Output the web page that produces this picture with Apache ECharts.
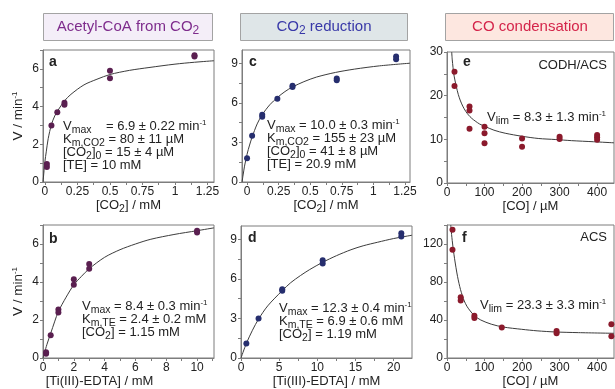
<!DOCTYPE html>
<html>
<head>
<meta charset="utf-8">
<script src="https://cdn.jsdelivr.net/npm/echarts@6/dist/echarts.min.js"></script>
<style>
html, body { margin: 0; padding: 0; background: #fff; }
#main { width: 615px; height: 389px; }
</style>
</head>
<body>
<div id="main"></div>
<script>
// a: acetyl-CoA from CO2, V vs [CO2]
var aX = [0.015, 0.015, 0.05, 0.095, 0.15, 0.15, 0.5, 0.5, 1.15, 1.15];
var aY = [0.8, 0.95, 3.0, 3.7, 4.2, 4.1, 5.9, 5.5, 6.65, 6.72];
var aFitX = [-0.015, 0, 0.01, 0.025, 0.05, 0.075, 0.1, 0.15, 0.2, 0.3, 0.4, 0.5, 0.65, 0.8, 1.0, 1.15, 1.3];
var aFitY = [0, 1.1, 1.6, 2.3, 3.05, 3.5, 3.8, 4.3, 4.65, 5.15, 5.45, 5.7, 5.92, 6.07, 6.25, 6.35, 6.43];
// b: acetyl-CoA, V vs [Ti(III)-EDTA]
var bX = [0.2, 0.2, 0.5, 1, 1, 2, 2, 3, 3, 10, 10];
var bY = [0.22, 0.3, 1.2, 2.55, 2.4, 4.15, 3.85, 4.95, 4.7, 6.7, 6.6];
var bFitX = [0, 0.25, 0.5, 0.75, 1, 1.5, 2, 2.5, 3, 4, 5, 6, 7, 8.5, 10, 11.1];
var bFitY = [0, 0.7, 1.3, 1.9, 2.45, 3.2, 3.85, 4.3, 4.7, 5.3, 5.7, 6.0, 6.25, 6.5, 6.7, 6.85];
// c: CO2 reduction, V vs [CO2]
var cX = [0, 0.04, 0.12, 0.12, 0.24, 0.36, 0.36, 0.71, 0.71, 1.18, 1.18];
var cY = [1.8, 3.5, 5.1, 4.95, 6.3, 7.3, 7.2, 7.85, 7.7, 9.5, 9.3];
var cFitX = [-0.04, -0.03, -0.02, 0, 0.02, 0.04, 0.08, 0.12, 0.18, 0.24, 0.3, 0.36, 0.45, 0.55, 0.7, 0.85, 1.05, 1.29];
var cFitY = [0, 0.6, 1.2, 2.1, 2.8, 3.4, 4.4, 5.1, 5.85, 6.4, 6.85, 7.2, 7.6, 7.95, 8.3, 8.55, 8.8, 9.0];
// d: CO2 reduction, V vs [Ti(III)-EDTA]
var dX = [0.7, 2.3, 5.4, 5.4, 10.7, 10.7, 21, 21];
var dY = [1.1, 3.0, 5.1, 5.2, 7.4, 7.15, 9.45, 9.2];
var dFitX = [0, 0.7, 1.5, 2.3, 3.5, 5.4, 6.5, 7.8, 9, 10.7, 12.5, 14.4, 16, 17.9, 20, 22.4];
var dFitY = [0, 1.1, 2.1, 2.95, 3.95, 5.1, 5.7, 6.25, 6.7, 7.25, 7.75, 8.2, 8.5, 8.77, 9.05, 9.3];
// e: CO condensation (CODH/ACS), V vs [CO]
var eX = [20, 20, 60, 60, 60, 100, 100, 100, 200, 200, 300, 300, 400, 400, 400];
var eY = [25.5, 22.2, 17.5, 16.6, 12.4, 12.9, 11.4, 9.1, 10.2, 8.3, 10.6, 10.1, 11.0, 10.5, 9.9];
var eFitX = [12.5, 14, 16, 18, 21, 25, 30, 35, 42, 50, 57, 66, 75, 87, 100, 125, 155, 200, 243, 290, 332, 390, 445];
var eFitY = [30, 28.2, 26.5, 25, 23.6, 22, 20.3, 19, 17.6, 16.4, 15.6, 14.8, 14.2, 13.5, 13, 12.1, 11.4, 10.7, 10.2, 9.95, 9.7, 9.45, 9.2];
// f: CO condensation (ACS), V vs [CO]
var fX = [14.6, 14.6, 36.5, 36.5, 73, 73, 146, 292, 292, 438, 438];
var fY = [135, 114, 64, 60.5, 44.4, 42, 32, 28.4, 26, 35.6, 23];
var fFitX = [10, 11.5, 13, 15, 17, 20, 24, 28, 32, 36, 41, 46, 53, 60, 73, 90, 118, 150, 199, 240, 289, 350, 445];
var fFitY = [140, 133, 127, 120, 113.5, 105, 95, 86, 78.5, 72, 65.5, 60, 54.5, 50.5, 44.5, 40, 35.6, 32.6, 30.2, 28.6, 27.4, 26.7, 26];

// tick labels
var aXLabels = [0, 0.25, 0.5, 0.75, 1, 1.25];
var cXLabels = [0, 0.25, 0.5, 0.75, 1, 1.25];
var bXLabels = [0, 2, 4, 6, 8, 10];
var dXLabels = [0, 5, 10, 15, 20];
var efXLabels = [0, 100, 200, 300, 400];
var abYLabels = [0, 2, 4, 6];
var cdYLabels = [0, 3, 6, 9];
var eYLabels = [0, 10, 20, 30];
var fYLabels = [0, 40, 80, 120];

var FONT = 'Liberation Sans, Arial, sans-serif';
var INK = '#222';
var AXIS = '#7d7d7d';

function pairs(xs, ys) {
    return xs.map(function (x, i) { return [x, ys[i]]; });
}
// add a minor tick halfway between labels
function withMinor(labels, max) {
    var out = [];
    var step = labels[1] - labels[0];
    labels.forEach(function (v) {
        out.push(v);
        if (v + step / 2 <= max) out.push(v + step / 2);
    });
    return out;
}

// s = subscript, p = superscript (height drives the shift inside the line)
var rich = {
    s: { fontFamily: FONT, fontSize: 10.5, color: INK, height: 5, lineHeight: 5, verticalAlign: 'bottom' },
    p: { fontFamily: FONT, fontSize: 8, color: INK, height: 6, lineHeight: 6, verticalAlign: 'top' }
};

var panels = [
    { grid: [43, 50, 171, 132], x: [-0.015, 1.3], y: [0, 7], xl: aXLabels, yl: abYLabels, pts: pairs(aX, aY), fit: pairs(aFitX, aFitY), color: '#5a1f50', xname: '[CO{s|2}] / mM', yname: 'V / min{p|-1}', pad: 0 },
    { grid: [242, 50, 168, 132], x: [-0.04, 1.29], y: [0, 10], xl: cXLabels, yl: cdYLabels, pts: pairs(cX, cY), fit: pairs(cFitX, cFitY), color: '#262e6e', xname: '[CO{s|2}] / mM', pad: 0 },
    { grid: [447, 52, 167, 131], x: [0, 445], y: [0, 30], xl: efXLabels, yl: eYLabels, pts: pairs(eX, eY), fit: pairs(eFitX, eFitY), color: '#8b1a2c', xname: '[CO] / µM', pad: 0 },
    { grid: [43, 225, 171, 133], x: [0, 11.1], y: [0, 7], xl: bXLabels, yl: abYLabels, pts: pairs(bX, bY), fit: pairs(bFitX, bFitY), color: '#5a1f50', xname: '[Ti(III)-EDTA] / mM', yname: 'V / min{p|-1}', pad: 58 },
    { grid: [241, 226, 171, 132], x: [0, 22.4], y: [0, 10], xl: dXLabels, yl: cdYLabels, pts: pairs(dX, dY), fit: pairs(dFitX, dFitY), color: '#262e6e', xname: '[Ti(III)-EDTA] / mM', pad: 0 },
    { grid: [447, 225, 167, 133], x: [0, 445], y: [0, 140], xl: efXLabels, yl: fYLabels, pts: pairs(fX, fY), fit: pairs(fFitX, fFitY), color: '#8b1a2c', xname: '[CO] / µM', pad: 0 }
];

var grids = [], xAxes = [], yAxes = [], series = [];
panels.forEach(function (p, i) {
    grids.push({
        left: p.grid[0], top: p.grid[1], width: p.grid[2], height: p.grid[3],
        show: true, borderColor: AXIS, borderWidth: 1, outerBoundsMode: 'none'
    });
    var nameStyle = { fontFamily: FONT, fontSize: 13, color: INK, lineHeight: 13, rich: rich };
    xAxes.push({
        gridIndex: i, type: 'value', min: p.x[0], max: p.x[1],
        axisLine: { show: true, onZero: false, lineStyle: { color: AXIS } },
        axisTick: { show: true, length: 3, customValues: withMinor(p.xl, p.x[1]), lineStyle: { color: AXIS } },
        axisLabel: { customValues: p.xl, fontFamily: FONT, fontSize: 12, color: INK, margin: 4 },
        splitLine: { show: false },
        name: p.xname, nameLocation: 'middle', nameGap: 17,
        nameTextStyle: Object.assign({}, nameStyle, { padding: [0, p.pad, 0, 0] })
    });
    yAxes.push({
        gridIndex: i, type: 'value', min: p.y[0], max: p.y[1],
        axisLine: { show: true, onZero: false, lineStyle: { color: AXIS } },
        axisTick: { show: true, length: 3, customValues: withMinor(p.yl, p.y[1]), lineStyle: { color: AXIS } },
        axisLabel: { customValues: p.yl, fontFamily: FONT, fontSize: 12, color: INK, margin: 4 },
        splitLine: { show: false },
        name: p.yname || '', nameLocation: 'middle', nameGap: 18, nameRotate: 90,
        nameTextStyle: Object.assign({}, nameStyle, { fontSize: 13.5 })
    });
    series.push({
        type: 'line', xAxisIndex: i, yAxisIndex: i, data: p.fit,
        symbol: 'none', smooth: 0.3, z: 2,
        lineStyle: { color: '#3c3c3c', width: 1 }
    });
    series.push({
        type: 'scatter', xAxisIndex: i, yAxisIndex: i, data: p.pts,
        symbolSize: 6, z: 3, itemStyle: { color: p.color, opacity: 1 }
    });
});

function note(left, top, text, extra) {
    var t = {
        left: left, top: top, padding: 0, text: text,
        textStyle: { fontFamily: FONT, fontSize: 13, fontWeight: 'normal', color: INK, lineHeight: 13, rich: rich }
    };
    return Object.assign(t, extra || {});
}
function letter(left, top, ch) {
    return { left: left, top: top, padding: 0, text: ch,
        textStyle: { fontFamily: FONT, fontSize: 14, fontWeight: 'bold', color: INK } };
}
function header(cx, text, color) {
    return { left: cx, top: 18, padding: 0, textAlign: 'center', text: text,
        textStyle: { fontFamily: FONT, fontSize: 15, fontWeight: 'normal', color: color, lineHeight: 17,
            rich: { s: { fontFamily: FONT, fontSize: 12, color: color, height: 8, lineHeight: 8, verticalAlign: 'bottom' } } } };
}

var titles = [
    header(128, 'Acetyl-CoA from CO{s|2}', '#7e2c8c'),
    header(324, 'CO{s|2} reduction', '#3838a8'),
    header(530, 'CO condensation', '#d4244a'),
    letter(49, 55, 'a'), letter(249, 55, 'c'), letter(463, 55, 'e'),
    letter(49, 232, 'b'), letter(248, 231, 'd'), letter(462, 231, 'f'),
    note(63, 120, 'V{s|max}    = 6.9 ± 0.22 min{p|-1}\nK{s|m,CO2} = 80 ± 11 µM\n[CO{s|2}]{s|0} = 15 ± 4 µM\n[TE] = 10 mM'),
    note(267, 119, 'V{s|max} = 10.0 ± 0.3 min{p|-1}\nK{s|m,CO2} = 155 ± 23 µM\n[CO{s|2}]{s|0} = 41 ± 8 µM\n[TE] = 20.9 mM'),
    note(487, 111, 'V{s|lim} = 8.3 ± 1.3 min{p|-1}'),
    note(607, 59, 'CODH/ACS', { textAlign: 'right' }),
    note(82, 300, 'V{s|max} = 8.4 ± 0.3 min{p|-1}\nK{s|m,TE} = 2.4 ± 0.2 mM\n[CO{s|2}] = 1.15 mM'),
    note(279, 302, 'V{s|max} = 12.3 ± 0.4 min{p|-1}\nK{s|m,TE} = 6.9 ± 0.6 mM\n[CO{s|2}] = 1.19 mM'),
    note(480, 299, 'V{s|lim} = 23.3 ± 3.3 min{p|-1}'),
    note(607, 231, 'ACS', { textAlign: 'right' })
];

var chart = echarts.init(document.getElementById('main'));
var option = {
    animation: false,
    backgroundColor: '#fff',
    textStyle: { fontFamily: FONT },
    title: titles,
    graphic: [
        { type: 'rect', z: 1, shape: { x: 43.5, y: 13.5, width: 169, height: 27 }, style: { fill: '#f4eef8', stroke: '#a3a3a3', lineWidth: 1 } },
        { type: 'rect', z: 1, shape: { x: 240.5, y: 13.5, width: 167, height: 27 }, style: { fill: '#dfe6e8', stroke: '#a3a3a3', lineWidth: 1 } },
        { type: 'rect', z: 1, shape: { x: 445.5, y: 13.5, width: 168, height: 27 }, style: { fill: '#fde7e0', stroke: '#a3a3a3', lineWidth: 1 } }
    ],
    grid: grids,
    xAxis: xAxes,
    yAxis: yAxes,
    series: series
};
chart.setOption(option);
</script>
</body>
</html>
